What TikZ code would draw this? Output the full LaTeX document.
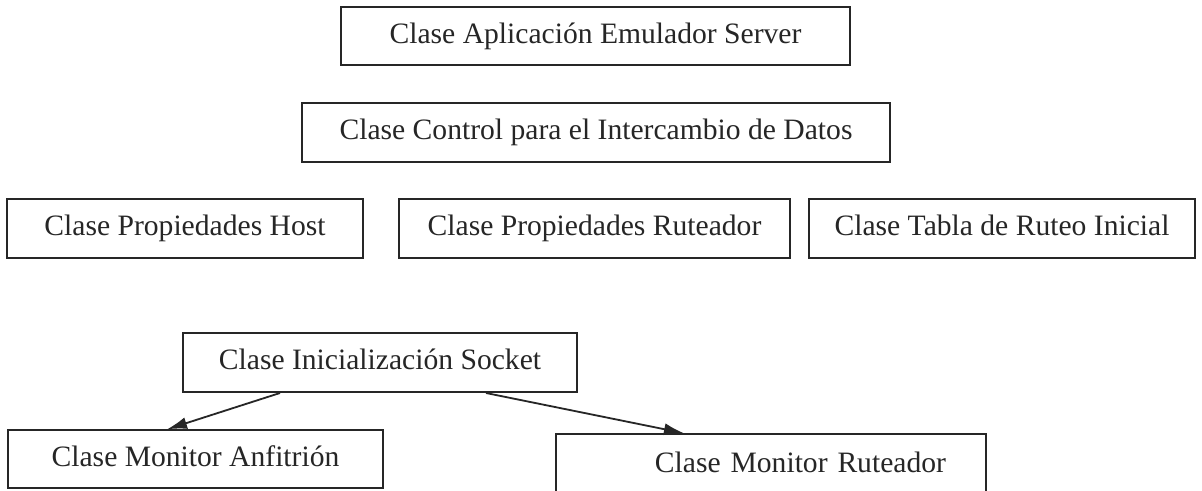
\documentclass[tikz,border=0pt]{standalone}
\usepackage{fontspec}
\setmainfont{Liberation Serif}
\usetikzlibrary{arrows.meta}
\definecolor{ink}{HTML}{262626}
\tikzset{
  classbox/.style={draw=ink, line width=2pt, rectangle, inner sep=0pt,
    text=ink, font=\fontsize{29.6}{32}\selectfont,
    text height=20pt, text depth=6pt},
  link/.style={draw=ink, line width=1.8pt,
    -{Latex[length=20pt,width=12pt]}, shorten >=-1pt}
}
\begin{document}
\begin{tikzpicture}[x=1pt, y=-1pt]
  \useasboundingbox (0,0) rectangle (1202,490);
  \fill[white] (0,0) rectangle (1202,490);
  \clip (0,0) rectangle (1202,490);

  % upper layer
  \node[classbox, minimum width=509pt, minimum height=58pt] (app) at (595.5,36) {Clase Aplicación Emulador Server};
  \node[classbox, minimum width=588pt, minimum height=59pt] (ctl) at (596,132.5) {Clase Control para el Intercambio de Datos};

  % property classes
  \node[classbox, minimum width=356pt, minimum height=59pt] (host) at (185,228.5) {Clase Propiedades Host};
  \node[classbox, minimum width=391pt, minimum height=59pt] (rprop) at (594.5,228.5) {Clase Propiedades Ruteador};
  \node[classbox, minimum width=386pt, minimum height=59pt] (tabla) at (1002,228.5) {Clase Tabla de Ruteo Inicial};

  % socket layer and the two monitors
  \node[classbox, minimum width=394pt, minimum height=59pt] (sock) at (380,362.5) {Clase Inicialización Socket};
  \node[classbox, minimum width=375pt, minimum height=58pt] (anf) at (195.5,459) {Clase Monitor Anfitrión};
  \node[classbox, anchor=north west, minimum height=62pt, text width=350pt,
        align=right, inner xsep=40pt] (rmon) at (555,433) {Clase Monitor Ruteador};

  \draw[link] ([xshift=98pt]sock.south west) -- ([xshift=161pt]anf.north west);
  \draw[link] ([xshift=304pt]sock.south west) -- ([xshift=128pt]rmon.north west);
\end{tikzpicture}
\end{document}
